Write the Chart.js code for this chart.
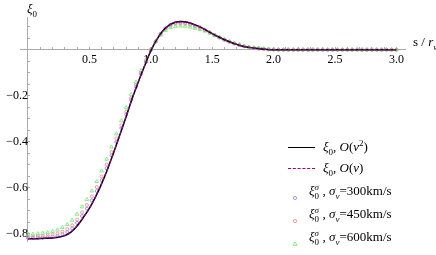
<!DOCTYPE html>
<html><head><meta charset="utf-8">
<script src="https://cdn.jsdelivr.net/npm/chart.js@4"></script>
<style>
html,body{margin:0;padding:0;background:#fff;}
#wrap{position:relative;width:436px;height:255px;overflow:hidden;}
canvas{position:absolute;left:0;top:0;}
.t{position:absolute;font-family:'Liberation Serif','Times New Roman',serif;font-size:13px;color:#000;white-space:nowrap;line-height:14px;}
.sw{position:absolute;}
.st{display:inline-block;position:relative;width:8px;height:10px;}
.st .a{position:absolute;left:0;top:-5px;font-size:9px;font-style:italic;}
.st .b{position:absolute;left:0;top:4px;font-size:9px;}
sub,sup{font-size:9px;line-height:0;}
</style></head>
<body><div id="wrap"><canvas id="c" width="436" height="255"></canvas></div>
<script>
// ---- data: curves (s step 0.05) ----
const sVals=[0.00,0.05,0.10,0.15,0.20,0.25,0.30,0.35,0.40,0.45,0.50,0.55,0.60,0.65,0.70,0.75,0.80,0.85,0.90,0.95,
1.00,1.05,1.10,1.15,1.20,1.25,1.30,1.35,1.40,1.45,1.50,1.55,1.60,1.65,1.70,1.75,1.80,1.85,1.90,1.95,
2.00,2.05,2.10,2.15,2.20,2.25,2.30,2.35,2.40,2.45,2.50,2.55,2.60,2.65,2.70,2.75,2.80,2.85,2.90,2.95,3.00];
const xiV2=[-0.822,-0.822,-0.821,-0.820,-0.818,-0.815,-0.808,-0.793,-0.766,-0.730,-0.690,-0.640,-0.582,-0.516,-0.444,-0.368,-0.290,-0.210,-0.138,-0.070,
-0.005,0.045,0.083,0.107,0.119,0.122,0.119,0.110,0.099,0.085,0.070,0.056,0.043,0.032,0.023,0.015,0.010,0.006,0.003,0.001,
0,0,0,0,0,0,0,0,0,0,0,0,0,0,0,0,0,0,0,0,0];
const xiV1=[-0.821,-0.821,-0.820,-0.819,-0.817,-0.814,-0.807,-0.792,-0.765,-0.729,-0.689,-0.639,-0.581,-0.515,-0.443,-0.367,-0.289,-0.209,-0.137,-0.069,
-0.004,0.045,0.082,0.106,0.118,0.121,0.118,0.109,0.098,0.084,0.070,0.056,0.043,0.032,0.023,0.015,0.010,0.006,0.003,0.001,
0,0,0,0,0,0,0,0,0,0,0,0,0,0,0,0,0,0,0,0,0];
// ---- data: markers (s step 0.04) ----
const sMk=[0.00,0.04,0.08,0.12,0.16,0.20,0.24,0.28,0.32,0.36,0.40,0.44,0.48,0.52,0.56,0.60,0.64,0.68,0.72,0.76,
0.80,0.84,0.88,0.92,0.96,1.00,1.04,1.08,1.12,1.16,1.20,1.24,1.28,1.32,1.36,1.40,1.44,1.48,1.52,1.56,
1.60,1.64,1.68,1.72,1.76,1.80,1.84,1.88,1.92,1.96,2.00,2.04,2.08,2.12,2.16,2.20,2.24,2.28,2.32,2.36,
2.40,2.44,2.48,2.52,2.56,2.60,2.64,2.68,2.72,2.76,2.80,2.84,2.88,2.92,2.96,3.00];
const sig300=[-0.818,-0.818,-0.817,-0.816,-0.815,-0.812,-0.809,-0.802,-0.793,-0.777,-0.753,-0.723,-0.691,-0.655,-0.614,-0.567,-0.515,-0.460,-0.401,-0.341,
-0.281,-0.219,-0.161,-0.106,-0.053,-0.003,0.036,0.069,0.093,0.108,0.116,0.118,0.117,0.112,0.104,0.097,0.087,0.075,0.064,0.053,
0.043,0.034,0.027,0.021,0.015,0.010,0.007,0.005,0.003,0.001,0.001,0,0,0,0,0,0,0,0,0,
0,0,0,0,0,0,0,0,0,0,0,0,0,0,0,0];
const sig450=[-0.812,-0.812,-0.810,-0.809,-0.807,-0.803,-0.799,-0.791,-0.780,-0.763,-0.738,-0.707,-0.675,-0.638,-0.597,-0.551,-0.499,-0.445,-0.387,-0.329,
-0.270,-0.210,-0.153,-0.100,-0.050,-0.001,0.036,0.067,0.090,0.104,0.111,0.113,0.112,0.107,0.100,0.094,0.084,0.074,0.063,0.053,
0.043,0.035,0.027,0.021,0.015,0.011,0.008,0.005,0.003,0.002,0.001,0,0,0,0,0,0,0,0,0,
0,0,0,0,0,0,0,0,0,0,0,0,0,0,0,0];
const sig600=[-0.802,-0.802,-0.800,-0.798,-0.795,-0.790,-0.784,-0.773,-0.760,-0.741,-0.715,-0.683,-0.651,-0.614,-0.573,-0.527,-0.476,-0.423,-0.366,-0.309,
-0.252,-0.195,-0.141,-0.091,-0.044,0.002,0.036,0.064,0.084,0.096,0.101,0.103,0.102,0.098,0.093,0.088,0.081,0.072,0.062,0.053,
0.044,0.036,0.028,0.022,0.016,0.012,0.009,0.006,0.004,0.002,0.001,0,0,0,0,0,0,0,0,0,
0,0,0,0,0,0,0,0,0,0,0,0,0,0,0,0];
// ---- ticks ----
const xTicks=[0.1,0.2,0.3,0.4,0.5,0.6,0.7,0.8,0.9,1.0,1.1,1.2,1.3,1.4,1.5,1.6,1.7,1.8,1.9,2.0,2.1,2.2,2.3,2.4,2.5,2.6,2.7,2.8,2.9,3.0];
const xLabels=[0.5,1.0,1.5,2.0,2.5,3.0];
const yTicks=[-0.8,-0.75,-0.7,-0.65,-0.6,-0.55,-0.5,-0.45,-0.4,-0.35,-0.3,-0.25,-0.2,-0.15,-0.1,-0.05,0.05,0.1];
const yLabels=[-0.8,-0.6,-0.4,-0.2];
const seriesNames=['ξ0, O(v^2)','ξ0, O(v)','ξ0^σ, σv=300km/s','ξ0^σ, σv=450km/s','ξ0^σ, σv=600km/s'];

const pts=(xs,a)=>xs.map((s,i)=>({x:s,y:a[i]}));
const inList=(v,l)=>l.some(u=>Math.abs(u-v)<1e-6);
const fmt=v=>(v<0?'\u2212':'')+Math.abs(v).toFixed(1);
const FONT="'Liberation Serif', 'Times New Roman', serif";

new Chart(document.getElementById('c'),{
  type:'scatter',
  data:{datasets:[
    {label:seriesNames[0],data:pts(sVals,xiV2),showLine:true,borderColor:'#000',borderWidth:1.5,pointRadius:0,cubicInterpolationMode:'monotone',order:1},
    {label:seriesNames[1],data:pts(sVals,xiV1),showLine:true,borderColor:'#990099',borderWidth:1.2,borderDash:[3,2],pointRadius:0,cubicInterpolationMode:'monotone',order:0},
    {label:seriesNames[2],data:pts(sMk,sig300),showLine:false,pointStyle:'circle',pointRadius:1.5,borderWidth:0.8,borderColor:'#7f7fff',backgroundColor:'rgba(0,0,0,0)',order:4},
    {label:seriesNames[3],data:pts(sMk,sig450),showLine:false,pointStyle:'circle',pointRadius:1.5,borderWidth:0.8,borderColor:'#ff7f7f',backgroundColor:'rgba(0,0,0,0)',order:3},
    {label:seriesNames[4],data:pts(sMk,sig600),showLine:false,pointStyle:'triangle',pointRadius:2.1,borderWidth:0.8,borderColor:'#66ee66',backgroundColor:'rgba(0,0,0,0)',order:2}
  ]},
  options:{
    responsive:false,animation:false,devicePixelRatio:1,
    layout:{padding:{left:20,right:31,top:17,bottom:3}},
    plugins:{legend:{display:false},tooltip:{enabled:false}},
    scales:{
      x:{type:'linear',min:-0.065,max:3.07,position:{y:0},
        afterBuildTicks:s=>{s.ticks=xTicks.map(v=>({value:v}));},
        afterFit:s=>{s.height=0;},
        grid:{drawOnChartArea:false,drawTicks:true,tickLength:-3,color:'#aaa'},
        border:{display:true,color:'#aaa',width:1},
        ticks:{autoSkip:false,maxRotation:0,minRotation:0,padding:6,color:'#000',font:{family:FONT,size:12},
          callback:v=>inList(v,xLabels)?Math.abs(v).toFixed(1):''}
      },
      y:{type:'linear',min:-0.835,max:0.142,position:{x:0},
        afterBuildTicks:s=>{s.ticks=yTicks.map(v=>({value:v}));},
        afterFit:s=>{s.width=0;},
        grid:{drawOnChartArea:false,drawTicks:true,tickLength:-3,color:'#aaa'},
        border:{display:true,color:'#aaa',width:1},
        ticks:{autoSkip:false,padding:6,color:'#000',font:{family:FONT,size:12},
          callback:v=>inList(v,yLabels)?fmt(v):''}
      }
    }
  }
});

// ---- axis titles & legend (HTML text) ----
const wrap=document.getElementById('wrap');
function addText(html,left,top,extra){const d=document.createElement('div');d.className='t';d.innerHTML=html;d.style.left=left+'px';d.style.top=top+'px';if(extra)Object.assign(d.style,extra);wrap.appendChild(d);return d;}
addText('<i>ξ</i><sub>0</sub>',27,2,{fontSize:'13px'});
addText('s / <i>r</i><sub><i>v</i></sub>',413,35,{fontSize:'13px'});

const xi0='<i>ξ</i><sub>0</sub>';
const xis='<i>ξ</i><span class="st"><span class="a">σ</span><span class="b">0</span></span>';
const legendRows=[
  {y:148,kind:'line',html:xi0+', <i>O</i>(<i>v</i><sup>2</sup>)'},
  {y:169,kind:'dash',html:xi0+', <i>O</i>(<i>v</i>)'},
  {y:192,kind:'circle',color:'#7f7fff',html:xis+', <i>σ<sub>v</sub></i>=300km/s'},
  {y:215,kind:'circle',color:'#ff7f7f',html:xis+', <i>σ<sub>v</sub></i>=450km/s'},
  {y:238,kind:'tri',color:'#66ee66',html:xis+', <i>σ<sub>v</sub></i>=600km/s'}
];
legendRows.forEach(r=>{
  const sw=document.createElement('div');sw.className='sw';
  if(r.kind==='line'){sw.style.cssText='left:288px;top:'+(r.y-1)+'px;width:27px;height:0;border-top:1.5px solid #000;';}
  else if(r.kind==='dash'){sw.style.cssText='left:288px;top:'+(r.y-1)+'px;width:27px;height:0;border-top:1.2px dashed #990099;';}
  else if(r.kind==='circle'){sw.innerHTML='<svg width="8" height="8"><circle cx="4" cy="4" r="1.6" fill="none" stroke="'+r.color+'" stroke-width="0.8"/></svg>';sw.style.left='291px';sw.style.top=(r.y-4)+'px';}
  else {sw.innerHTML='<svg width="8" height="8"><polygon points="4,1.8 6,5.4 2,5.4" fill="none" stroke="'+r.color+'" stroke-width="0.8"/></svg>';sw.style.left='291px';sw.style.top=(r.y-4)+'px';}
  wrap.appendChild(sw);
  addText(r.html,(r.kind==='line'||r.kind==='dash')?323:309,r.y-8);
});
</script></body></html>
